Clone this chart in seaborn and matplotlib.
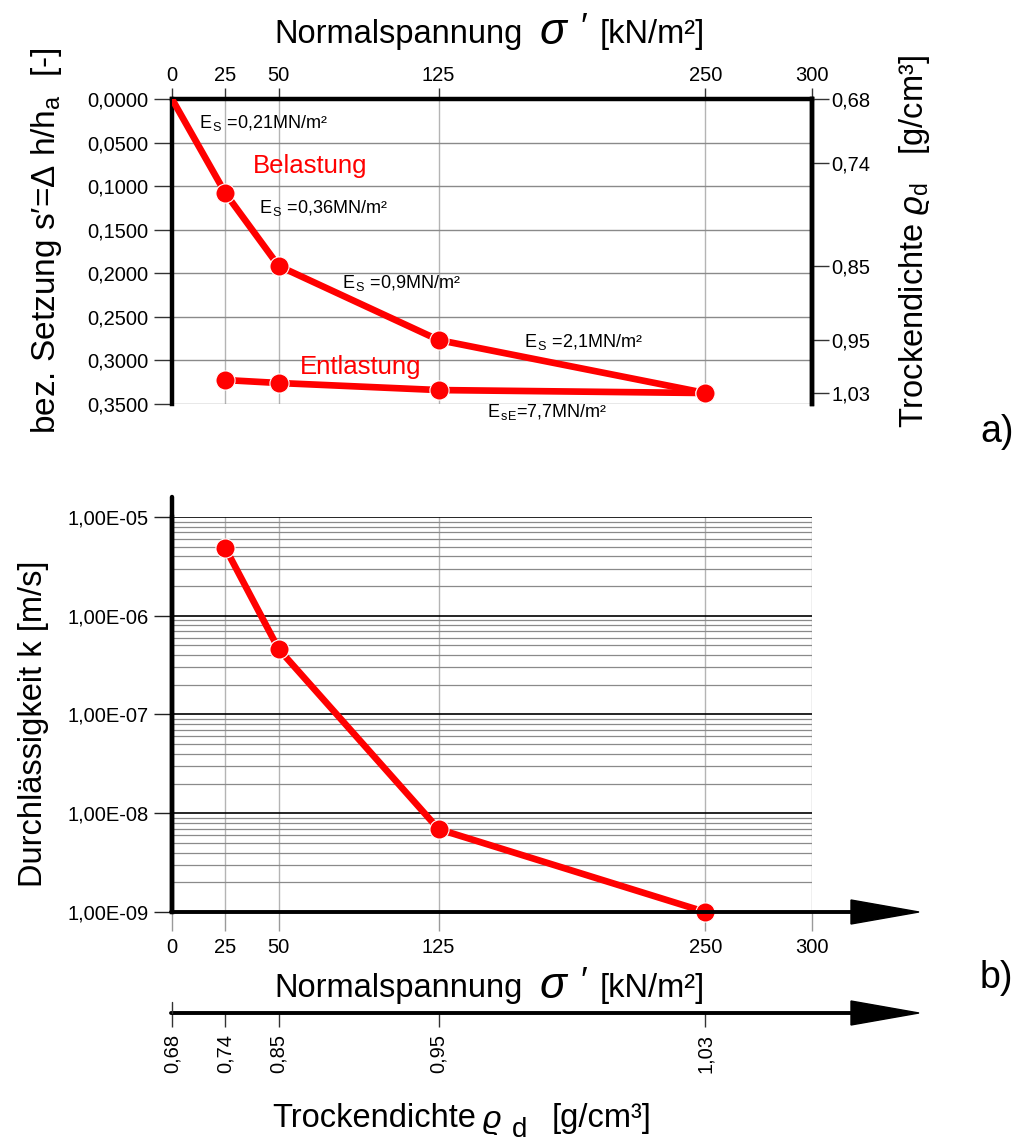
import numpy as np
import matplotlib
matplotlib.use("Agg")
import matplotlib.pyplot as plt
import seaborn as sns
from matplotlib.lines import Line2D
from matplotlib.patches import Polygon
from matplotlib.ticker import LogLocator, NullFormatter

# ---------------- data ----------------
sigma_load = [0, 25, 50, 125, 250]
settlement_load = [0.0, 0.108, 0.1916, 0.2766, 0.3374]
sigma_unload = [25, 50, 125, 250]
settlement_unload = [0.3225, 0.3259, 0.334, 0.3374]
sigma_k = [25, 50, 125, 250]
permeability_k = [4.85e-6, 4.6e-7, 6.9e-9, 1.0e-9]

sigma_ticks = [0, 25, 50, 125, 250, 300]
settlement_ticks = [0.0, 0.05, 0.10, 0.15, 0.20, 0.25, 0.30, 0.35]
k_ticks = [1e-9, 1e-8, 1e-7, 1e-6, 1e-5]
k_tick_labels = ["1,00E-09", "1,00E-08", "1,00E-07", "1,00E-06", "1,00E-05"]
density_labels = ["0,68", "0,74", "0,85", "0,95", "1,03"]
density_settlement = [0.0, 0.0734, 0.1916, 0.2766, 0.3374]
density_sigma = [0, 25, 50, 125, 250]
modulus_labels = [r"E$_{\,\rm S}$ =0,21MN/m²", r"E$_{\,\rm S}$ =0,36MN/m²",
                  r"E$_{\,\rm S}$ =0,9MN/m²", r"E$_{\,\rm S}$ =2,1MN/m²",
                  r"E$_{\,\rm sE}$=7,7MN/m²"]
modulus_x = [12.7, 40.8, 79.7, 165.0, 147.7]
modulus_y = [0.0333, 0.1308, 0.2169, 0.2846, 0.3649]

# ---------------- style ----------------
sns.set_theme(style="white")
plt.rcParams["font.family"] = ["Liberation Sans", "DejaVu Sans"]
plt.rcParams["mathtext.fontset"] = "custom"
plt.rcParams["mathtext.rm"] = "Liberation Sans"
plt.rcParams["mathtext.it"] = "Liberation Sans:italic"
plt.rcParams["mathtext.bf"] = "Liberation Sans:bold"
plt.rcParams["mathtext.sf"] = "Liberation Sans"
for key in ["text.color", "axes.labelcolor", "xtick.color", "ytick.color"]:
    plt.rcParams[key] = "black"

RED = "#ff0000"
W, H = 1017, 1142


def fx(px):
    return px / W


def fy(py):
    return 1 - py / H


fig = plt.figure(figsize=(W / 100, H / 100), dpi=100)
fig.patch.set_facecolor("white")


def piece(x_px, y_px, s, size, rot=0, **kw):
    fig.text(fx(x_px), fy(y_px), s, fontsize=size, rotation=rot,
             rotation_mode="anchor", ha="left", va="baseline", **kw)


# ---------------- top chart ----------------
ax1 = fig.add_axes([fx(172), fy(404), 640 / W, 305 / H])
sns.lineplot(x=sigma_load, y=settlement_load, ax=ax1, color=RED, lw=4.8,
             zorder=3, sort=False)
sns.lineplot(x=sigma_unload, y=settlement_unload, ax=ax1, color=RED, lw=4.8,
             zorder=3, sort=False)
sns.scatterplot(x=sigma_load[1:], y=settlement_load[1:], ax=ax1, color=RED,
                s=190, edgecolor="white", linewidth=0.8, zorder=4)
sns.scatterplot(x=sigma_unload, y=settlement_unload, ax=ax1, color=RED,
                s=190, edgecolor="white", linewidth=0.8, zorder=4)
ax1.set_xlim(0, 300)
ax1.set_ylim(0.35, 0)
ax1.set_xlabel("")
ax1.set_ylabel("")
ax1.xaxis.tick_top()
ax1.set_xticks(sigma_ticks)
ax1.set_xticklabels([str(v) for v in sigma_ticks])
ax1.set_yticks(settlement_ticks)
ax1.set_yticklabels([f"{v:.4f}".replace(".", ",") for v in settlement_ticks])
ax1.tick_params(axis="x", which="major", top=True, bottom=False, direction="out",
                length=8, width=1, color="#333333", labelsize=14.5, pad=2,
                labelcolor="black")
ax1.tick_params(axis="y", which="major", left=True, direction="out",
                length=13, width=1, color="#333333", labelsize=14.5, pad=4,
                labelcolor="black")
ax1.xaxis.grid(True, color="#b4b4b4", lw=1)
ax1.yaxis.grid(True, color="#8a8a8a", lw=1)
ax1.set_axisbelow(True)
for side in ["left", "top", "right"]:
    ax1.spines[side].set_color("black")
    ax1.spines[side].set_linewidth(3.2)
ax1.spines["bottom"].set_visible(False)

ax1r = ax1.twinx()
ax1r.set_ylim(0.35, 0)
ax1r.set_yticks(density_settlement)
ax1r.set_yticklabels(density_labels)
ax1r.tick_params(axis="y", right=True, direction="out", length=12, width=1,
                 color="#333333", labelsize=14.5, pad=2, labelcolor="black")
for side in ["left", "top", "bottom"]:
    ax1r.spines[side].set_visible(False)
ax1r.spines["right"].set_color("black")
ax1r.spines["right"].set_linewidth(3.2)
ax1r.grid(False)

ax1.text(38.0, 0.0849, "Belastung", color=RED, fontsize=18.5, va="baseline")
ax1.text(60.0, 0.3156, "Entlastung", color=RED, fontsize=18.5, va="baseline")
for lab, xx, yy in zip(modulus_labels, modulus_x, modulus_y):
    ax1.text(xx, yy, lab, fontsize=13, va="baseline", ha="left", clip_on=False,
             color="black")

# ---------------- bottom chart ----------------
ax2 = fig.add_axes([fx(172), fy(912), 640 / W, 395 / H])
sns.lineplot(x=sigma_k, y=permeability_k, ax=ax2, color=RED, lw=4.8,
             zorder=3, sort=False)
sns.scatterplot(x=sigma_k, y=permeability_k, ax=ax2, color=RED,
                s=190, edgecolor="white", linewidth=0.8, zorder=4, clip_on=False)
ax2.set_yscale("log")
ax2.set_xlim(0, 300)
ax2.set_ylim(1e-9, 1e-5)
ax2.set_xlabel("")
ax2.set_ylabel("")
ax2.set_yticks(k_ticks)
ax2.set_yticklabels(k_tick_labels)
ax2.yaxis.set_minor_locator(LogLocator(base=10, subs=np.arange(2, 10)))
ax2.yaxis.set_minor_formatter(NullFormatter())
ax2.set_xticks(sigma_ticks)
ax2.set_xticklabels([str(v) for v in sigma_ticks])
ax2.tick_params(axis="y", which="major", left=True, direction="out",
                length=13, width=1, color="#222222", labelsize=14.5, pad=4,
                labelcolor="black")
ax2.tick_params(axis="y", which="minor", left=False, length=0)
ax2.tick_params(axis="x", which="major", bottom=True, direction="out",
                length=14, width=1, color="#9a9a9a", labelsize=14.5, pad=5,
                labelcolor="black")
ax2.yaxis.grid(True, which="major", color="black", lw=1.2)
ax2.yaxis.grid(True, which="minor", color="#8a8a8a", lw=0.9)
ax2.xaxis.grid(True, which="major", color="#b4b4b4", lw=1)
ax2.set_axisbelow(True)
for side in ["top", "right", "bottom"]:
    ax2.spines[side].set_visible(False)
ax2.spines["left"].set_color("black")
ax2.spines["left"].set_linewidth(3.2)

# extended left spine and arrowed x axes (figure coordinates)
fig.add_artist(Line2D([fx(172), fx(172)], [fy(912), fy(497)], color="black",
                      lw=3.2, transform=fig.transFigure))
for yy in (912, 1013):
    fig.add_artist(Line2D([fx(171), fx(860)], [fy(yy), fy(yy)], color="black",
                          lw=2.8, transform=fig.transFigure, zorder=2))
    fig.add_artist(Polygon([[fx(851), fy(yy - 12)], [fx(851), fy(yy + 12)],
                            [fx(919), fy(yy)]], closed=True, color="black",
                           transform=fig.transFigure))
fig.add_artist(Line2D([fx(172), fx(172)], [fy(1013), fy(1002)], color="#333333",
                      lw=1, transform=fig.transFigure))

# density axis below
ax3 = fig.add_axes([fx(172), fy(1013), 640 / W, 1 / H])
ax3.set_xlim(0, 300)
ax3.set_ylim(0, 1)
ax3.patch.set_visible(False)
for side in ax3.spines:
    ax3.spines[side].set_visible(False)
ax3.set_yticks([])
ax3.set_xticks(density_sigma)
ax3.set_xticklabels(density_labels, rotation=90)
ax3.tick_params(axis="x", bottom=True, direction="out", length=10, width=1,
                color="#333333", labelsize=14.5, pad=5, labelcolor="black")
ax3.grid(False)

# ---------------- labels ----------------
for base in (43, 997):
    piece(274, base, "Normalspannung", 23.5)
    piece(540, base + 1, "σ", 32, style="italic")
    piece(580, base - 4, "′", 26)
    piece(600, base, "[kN/m²]", 23.5)

piece(272, 1127, "Trockendichte", 23.5)
piece(482, 1128, r"$\varrho$", 23)
piece(512, 1137, "d", 20)
piece(552, 1127, "[g/cm³]", 23.5)

piece(55, 434, r"bez. Setzung s′=Δ h/h$_{\rm a}$  [-]", 24, rot=90)
piece(923, 428, r"Trockendichte $\varrho_{\rm d}$   [g/cm³]", 23.5, rot=90)
piece(42, 887, "Durchlässigkeit k [m/s]", 23.5, rot=90)
piece(980, 442, "a)", 27)
piece(980, 988, "b)", 27)

fig.savefig("out.png", dpi=100)
